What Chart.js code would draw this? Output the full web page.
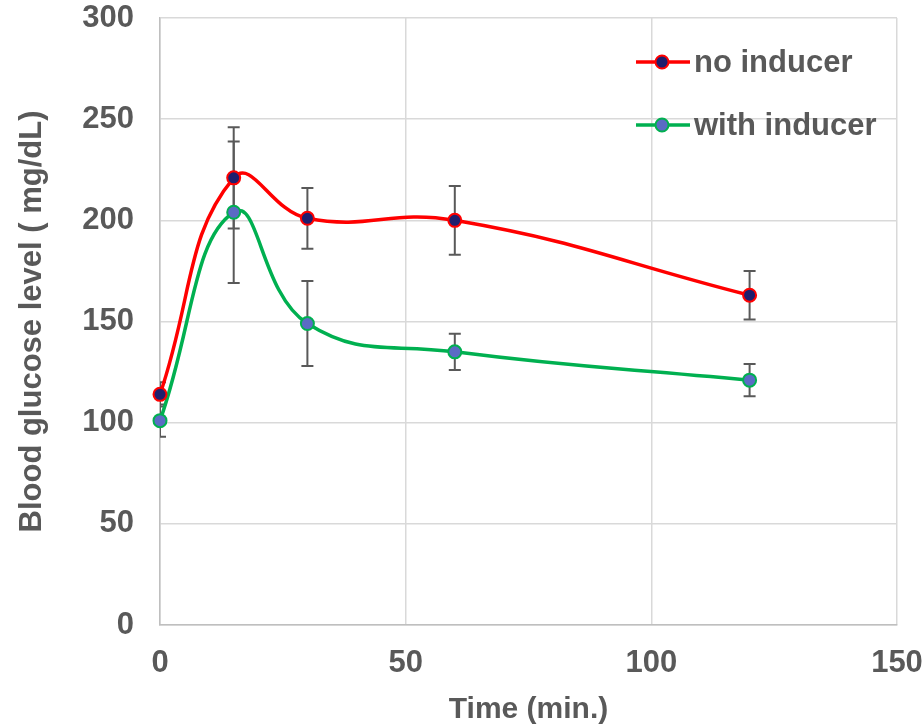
<!DOCTYPE html>
<html>
<head>
<meta charset="utf-8">
<script src="https://cdn.jsdelivr.net/npm/chart.js@4/dist/chart.umd.min.js"></script>
<style>
  html, body { margin: 0; padding: 0; background: #fff; }
  #wrap { width: 922px; height: 728px; }
</style>
</head>
<body>
<div id="wrap"><canvas id="glucose"></canvas></div>
<script>
// time points (min.)
const times = [0, 15, 30, 60, 120];
const seriesNames = ['no inducer', 'with inducer'];
const noInducer = [114, 221, 201, 200, 163];
const noInducerErr = [6, 25, 15, 17, 12];
const withInducer = [101, 204, 149, 135, 121];
const withInducerErr = [8, 35, 21, 9, 8];
const xTicks = [0, 50, 100, 150];
const yTicks = [0, 50, 100, 150, 200, 250, 300];

const grey = '#595959';

function toPoints(xs, ys, errs) {
    return xs.map((x, i) => ({ x: x, y: ys[i], err: errs[i] }));
}

// draws the error bars under the lines
const errorBars = {
    id: 'errorBars',
    beforeDatasetsDraw(chart) {
        const ctx = chart.ctx;
        const area = chart.chartArea;
        const xs = chart.scales.x, ys = chart.scales.y;
        ctx.save();
        ctx.beginPath();
        ctx.rect(area.left, area.top - 5, area.right - area.left, area.bottom - area.top + 10);
        ctx.clip();
        ctx.strokeStyle = grey;
        ctx.lineWidth = 2;
        chart.data.datasets.forEach(ds => {
            ds.data.forEach(p => {
                const px = xs.getPixelForValue(p.x);
                const top = ys.getPixelForValue(p.y + p.err);
                const bot = ys.getPixelForValue(p.y - p.err);
                ctx.beginPath();
                ctx.moveTo(px, top); ctx.lineTo(px, bot);
                ctx.moveTo(px - 6, top); ctx.lineTo(px + 6, top);
                ctx.moveTo(px - 6, bot); ctx.lineTo(px + 6, bot);
                ctx.stroke();
            });
        });
        ctx.restore();
    }
};

// legend sitting inside the plot, top right
const insideLegend = {
    id: 'insideLegend',
    afterDraw(chart) {
        const ctx = chart.ctx;
        const area = chart.chartArea;
        ctx.save();
        chart.data.datasets.forEach((ds, i) => {
            const y = area.top + 44 + i * 63;
            const x0 = area.right - 261;
            ctx.strokeStyle = ds.borderColor;
            ctx.lineWidth = 3.5;
            ctx.beginPath();
            ctx.moveTo(x0, y); ctx.lineTo(x0 + 54, y);
            ctx.stroke();
            ctx.beginPath();
            ctx.arc(x0 + 26, y, 6.5, 0, Math.PI * 2);
            ctx.fillStyle = ds.pointBackgroundColor;
            ctx.fill();
            ctx.lineWidth = 2;
            ctx.strokeStyle = ds.pointBorderColor;
            ctx.stroke();
            ctx.fillStyle = grey;
            ctx.font = 'bold 31px "Liberation Sans", Arial, sans-serif';
            ctx.textBaseline = 'middle';
            ctx.fillText(ds.label, x0 + 58, y + 1);
        });
        ctx.restore();
    }
};

const config = {
    type: 'line',
    data: {
        datasets: [
            {
                label: seriesNames[0],
                data: toPoints(times, noInducer, noInducerErr),
                borderColor: '#FF0000',
                borderWidth: 3.5,
                pointBackgroundColor: '#1F1F6E',
                pointBorderColor: '#FF0000',
                pointBorderWidth: 2,
                pointRadius: 6.5,
                tension: 0.45,
                clip: false
            },
            {
                label: seriesNames[1],
                data: toPoints(times, withInducer, withInducerErr),
                borderColor: '#00B050',
                borderWidth: 3.5,
                pointBackgroundColor: '#5B6BC4',
                pointBorderColor: '#00B050',
                pointBorderWidth: 2,
                pointRadius: 6.5,
                tension: 0.45,
                clip: false
            }
        ]
    },
    options: {
        responsive: true,
        maintainAspectRatio: false,
        animation: false,
        layout: { padding: { top: 18, right: 25, left: 0, bottom: 0 } },
        plugins: {
            legend: { display: false },
            tooltip: { enabled: false }
        },
        scales: {
            x: {
                type: 'linear',
                min: 0, max: 150,
                afterBuildTicks: s => { s.ticks = xTicks.map(v => ({ value: v })); },
                afterFit: s => { s.height = 103; s.paddingLeft = 0; s.paddingRight = 0; },
                grid: { color: '#D9D9D9', lineWidth: 1.5, drawTicks: false },
                border: { color: '#BFBFBF', width: 1.5 },
                ticks: {
                    color: grey,
                    padding: 20,
                    font: { family: '"Liberation Sans", Arial', size: 31, weight: 'bold' }
                },
                title: {
                    display: true,
                    text: 'Time (min.)',
                    color: grey,
                    padding: { top: 4, bottom: 0 },
                    font: { family: '"Liberation Sans", Arial', size: 30, weight: 'bold' }
                }
            },
            y: {
                min: 0, max: 300,
                afterBuildTicks: s => { s.ticks = yTicks.map(v => ({ value: v })); },
                afterFit: s => { s.width = 160; s.paddingTop = 0; s.paddingBottom = 0; },
                grid: { color: '#D9D9D9', lineWidth: 1.5, drawTicks: false },
                border: { color: '#BFBFBF', width: 1.5 },
                ticks: {
                    color: grey,
                    padding: 26,
                    font: { family: '"Liberation Sans", Arial', size: 31, weight: 'bold' }
                },
                title: {
                    display: true,
                    text: 'Blood glucose level ( mg/dL)',
                    color: grey,
                    padding: { top: 14, bottom: 0 },
                    font: { family: '"Liberation Sans", Arial', size: 31, weight: 'bold' }
                }
            }
        }
    },
    plugins: [errorBars, insideLegend]
};

new Chart(document.getElementById('glucose').getContext('2d'), config);
</script>
</body>
</html>
